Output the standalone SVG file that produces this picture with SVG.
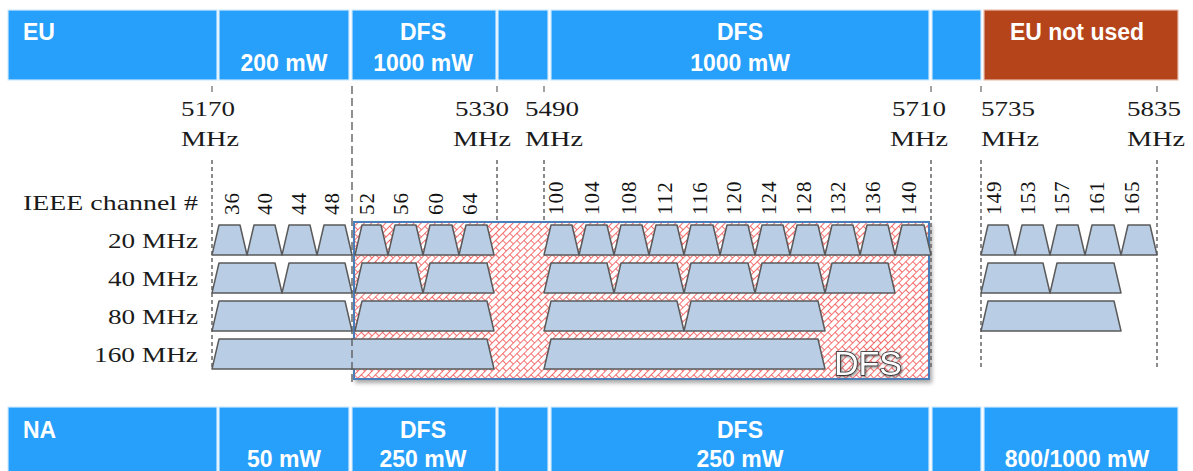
<svg xmlns="http://www.w3.org/2000/svg" width="1193" height="471" viewBox="0 0 1193 471">
<style>
.cell{fill:#27a0fc;stroke:#cfe9ff;stroke-width:1.2}
.brown{fill:#b5441a;stroke:#e8c0b0;stroke-width:1.2}
.bt{font-family:"Liberation Sans",Arial,sans-serif;font-weight:bold;font-size:23px;fill:#fff}
.mid{text-anchor:middle}
.ser{font-family:"Liberation Serif","Times New Roman",serif;font-size:22px;fill:#1a1a1a}
.num{font-family:"Liberation Serif","Times New Roman",serif;font-size:21px;fill:#111;letter-spacing:1px;dominant-baseline:central}
.tr{fill:#b9cde5;stroke:#5a5a5a;stroke-width:1.5;stroke-linejoin:round}
.dash{stroke:#666;stroke-width:1.5;stroke-dasharray:4 3;fill:none}
.ldash{stroke:#555;stroke-width:1.3;stroke-dasharray:8 4;fill:none}
.tick{stroke:#666;stroke-width:1.2}
</style>
<defs>
<pattern id="brick" width="10" height="10" patternUnits="userSpaceOnUse" patternTransform="rotate(-45)">
<rect width="10" height="10" fill="#fff"/>
<path d="M0 0.5H10M0 5.5H10M0.5 0.5V5.5M5.5 5.5V10.5" stroke="#f03030" stroke-width="0.7" fill="none"/>
</pattern>
<filter id="shadow" x="-5%" y="-5%" width="110%" height="115%">
<feDropShadow dx="2" dy="3" stdDeviation="2" flood-color="#000" flood-opacity="0.35"/>
</filter>
<filter id="glow" x="-20%" y="-20%" width="140%" height="140%">
<feDropShadow dx="1" dy="1" stdDeviation="1.5" flood-color="#444" flood-opacity="0.8"/>
</filter>
</defs>
<rect width="1193" height="471" fill="#fff"/>

<g id="eu-bar">
<rect class="cell" x="8" y="10" width="209" height="70"/>
<rect class="cell" x="219" y="10" width="130" height="70"/>
<rect class="cell" x="352" y="10" width="144" height="70"/>
<rect class="cell" x="498" y="10" width="50" height="70"/>
<rect class="cell" x="551" y="10" width="378" height="70"/>
<rect class="cell" x="932" y="10" width="49" height="70"/>
<rect class="brown" x="984" y="10" width="194" height="70"/>
<text class="bt" x="23" y="40">EU</text>
<text class="bt mid" x="284" y="71">200 mW</text>
<text class="bt mid" x="423" y="40">DFS</text>
<text class="bt mid" x="423" y="71">1000 mW</text>
<text class="bt mid" x="740" y="40">DFS</text>
<text class="bt mid" x="740" y="71">1000 mW</text>
<text class="bt mid" x="1077" y="40">EU not used</text>
</g>

<g id="na-bar">
<rect class="cell" x="8" y="407" width="209" height="70"/>
<rect class="cell" x="219" y="407" width="130" height="70"/>
<rect class="cell" x="352" y="407" width="144" height="70"/>
<rect class="cell" x="498" y="407" width="50" height="70"/>
<rect class="cell" x="551" y="407" width="378" height="70"/>
<rect class="cell" x="932" y="407" width="49" height="70"/>
<rect class="cell" x="984" y="407" width="194" height="70"/>
<text class="bt" x="23" y="438">NA</text>
<text class="bt mid" x="284" y="467">50 mW</text>
<text class="bt mid" x="423" y="438">DFS</text>
<text class="bt mid" x="423" y="467">250 mW</text>
<text class="bt mid" x="740" y="438">DFS</text>
<text class="bt mid" x="740" y="467">250 mW</text>
<text class="bt mid" x="1077" y="467">800/1000 mW</text>
</g>

<g id="freq-labels" class="ser">
<text x="181" y="116" textLength="54" lengthAdjust="spacingAndGlyphs">5170</text>
<text x="181" y="146" textLength="58" lengthAdjust="spacingAndGlyphs">MHz</text>
<text x="455" y="116" textLength="54" lengthAdjust="spacingAndGlyphs">5330</text>
<text x="453" y="146" textLength="58" lengthAdjust="spacingAndGlyphs">MHz</text>
<text x="525" y="116" textLength="54" lengthAdjust="spacingAndGlyphs">5490</text>
<text x="525" y="146" textLength="58" lengthAdjust="spacingAndGlyphs">MHz</text>
<text x="892" y="116" textLength="54" lengthAdjust="spacingAndGlyphs">5710</text>
<text x="890" y="146" textLength="58" lengthAdjust="spacingAndGlyphs">MHz</text>
<text x="981" y="116" textLength="54" lengthAdjust="spacingAndGlyphs">5735</text>
<text x="981" y="146" textLength="58" lengthAdjust="spacingAndGlyphs">MHz</text>
<text x="1127" y="116" textLength="54" lengthAdjust="spacingAndGlyphs">5835</text>
<text x="1127" y="146" textLength="58" lengthAdjust="spacingAndGlyphs">MHz</text>
</g>

<g id="row-labels" class="ser">
<text x="23" y="210" textLength="175" lengthAdjust="spacingAndGlyphs">IEEE channel #</text>
<text x="108" y="248" textLength="90" lengthAdjust="spacingAndGlyphs">20 MHz</text>
<text x="108" y="286" textLength="90" lengthAdjust="spacingAndGlyphs">40 MHz</text>
<text x="108" y="324" textLength="90" lengthAdjust="spacingAndGlyphs">80 MHz</text>
<text x="94" y="362" textLength="104" lengthAdjust="spacingAndGlyphs">160 MHz</text>
</g>

<g id="dfs-zone">
<rect x="354" y="222" width="575" height="157" fill="url(#brick)" stroke="#4a7ebb" stroke-width="2" filter="url(#shadow)"/>
</g>

<g id="guides">
<line class="tick" x1="212" y1="86" x2="212" y2="92"/>
<line class="tick" x1="497" y1="86" x2="497" y2="92"/>
<line class="tick" x1="544" y1="86" x2="544" y2="92"/>
<line class="tick" x1="931" y1="86" x2="931" y2="92"/>
<line class="tick" x1="981" y1="86" x2="981" y2="92"/>
<line class="tick" x1="1157" y1="86" x2="1157" y2="92"/>
<line class="dash" x1="212" y1="160" x2="212" y2="370"/>
<line class="dash" x1="497" y1="160" x2="497" y2="222"/>
<line class="dash" x1="544" y1="160" x2="544" y2="222"/>
<line class="dash" x1="931" y1="160" x2="931" y2="368"/>
<line class="dash" x1="981" y1="160" x2="981" y2="368"/>
<line class="dash" x1="1157" y1="160" x2="1157" y2="368"/>
</g>

<g id="channel-numbers" class="num">
<text transform="translate(232,215) rotate(-90)">36</text>
<text transform="translate(265,215) rotate(-90)">40</text>
<text transform="translate(299,215) rotate(-90)">44</text>
<text transform="translate(332,215) rotate(-90)">48</text>
<text transform="translate(367,215) rotate(-90)">52</text>
<text transform="translate(401,215) rotate(-90)">56</text>
<text transform="translate(436,215) rotate(-90)">60</text>
<text transform="translate(470,215) rotate(-90)">64</text>
<text transform="translate(556,215) rotate(-90)">100</text>
<text transform="translate(592,215) rotate(-90)">104</text>
<text transform="translate(629,215) rotate(-90)">108</text>
<text transform="translate(665,215) rotate(-90)">112</text>
<text transform="translate(700,215) rotate(-90)">116</text>
<text transform="translate(734,215) rotate(-90)">120</text>
<text transform="translate(769,215) rotate(-90)">124</text>
<text transform="translate(804,215) rotate(-90)">128</text>
<text transform="translate(838,215) rotate(-90)">132</text>
<text transform="translate(873,215) rotate(-90)">136</text>
<text transform="translate(909,215) rotate(-90)">140</text>
<text transform="translate(994,215) rotate(-90)">149</text>
<text transform="translate(1028,215) rotate(-90)">153</text>
<text transform="translate(1062,215) rotate(-90)">157</text>
<text transform="translate(1097,215) rotate(-90)">161</text>
<text transform="translate(1132,215) rotate(-90)">165</text>
</g>

<g id="channels-20">
<polygon class="tr" points="212,255 219,225 240,225 247,255"/>
<polygon class="tr" points="247,255 254,225 275,225 282,255"/>
<polygon class="tr" points="282,255 289,225 310,225 317,255"/>
<polygon class="tr" points="317,255 324,225 345,225 352,255"/>
<polygon class="tr" points="355,255 362,225 381,225 388,255"/>
<polygon class="tr" points="388,255 395,225 416,225 423,255"/>
<polygon class="tr" points="423,255 430,225 452,225 459,255"/>
<polygon class="tr" points="459,255 466,225 487,225 494,255"/>
<polygon class="tr" points="544,255 551,225 572,225 579,255"/>
<polygon class="tr" points="579,255 586,225 607,225 614,255"/>
<polygon class="tr" points="614,255 621,225 642,225 649,255"/>
<polygon class="tr" points="649,255 656,225 677,225 684,255"/>
<polygon class="tr" points="684,255 691,225 713,225 720,255"/>
<polygon class="tr" points="720,255 727,225 748,225 755,255"/>
<polygon class="tr" points="755,255 762,225 783,225 790,255"/>
<polygon class="tr" points="790,255 797,225 818,225 825,255"/>
<polygon class="tr" points="825,255 832,225 853,225 860,255"/>
<polygon class="tr" points="860,255 867,225 888,225 895,255"/>
<polygon class="tr" points="895,255 902,225 924,225 931,255"/>
<polygon class="tr" points="981,255 988,225 1008,225 1015,255"/>
<polygon class="tr" points="1015,255 1022,225 1043,225 1050,255"/>
<polygon class="tr" points="1050,255 1057,225 1078,225 1085,255"/>
<polygon class="tr" points="1085,255 1092,225 1114,225 1121,255"/>
<polygon class="tr" points="1121,255 1128,225 1150,225 1157,255"/>
</g>

<g id="channels-40">
<polygon class="tr" points="212,293 219,263 275,263 282,293"/>
<polygon class="tr" points="282,293 289,263 345,263 352,293"/>
<polygon class="tr" points="355,293 362,263 416,263 423,293"/>
<polygon class="tr" points="423,293 430,263 487,263 494,293"/>
<polygon class="tr" points="544,293 551,263 607,263 614,293"/>
<polygon class="tr" points="614,293 621,263 677,263 684,293"/>
<polygon class="tr" points="684,293 691,263 748,263 755,293"/>
<polygon class="tr" points="755,293 762,263 818,263 825,293"/>
<polygon class="tr" points="825,293 832,263 888,263 895,293"/>
<polygon class="tr" points="981,293 988,263 1043,263 1050,293"/>
<polygon class="tr" points="1050,293 1057,263 1114,263 1121,293"/>
</g>

<g id="channels-80">
<polygon class="tr" points="212,331 219,301 345,301 352,331"/>
<polygon class="tr" points="355,331 362,301 487,301 494,331"/>
<polygon class="tr" points="544,331 551,301 677,301 684,331"/>
<polygon class="tr" points="684,331 691,301 818,301 825,331"/>
<polygon class="tr" points="981,331 988,301 1114,301 1121,331"/>
</g>

<g id="channels-160">
<polygon class="tr" points="212,369 219,339 487,339 494,369"/>
<polygon class="tr" points="544,369 551,339 818,339 825,369"/>
</g>

<line id="dfs-edge" class="ldash" x1="352" y1="86" x2="352" y2="386"/>

<g id="dfs-label">
<text x="834" y="375" textLength="68" lengthAdjust="spacingAndGlyphs" font-family="Liberation Sans, Arial, sans-serif" font-size="34" fill="#fff" stroke="#222" stroke-width="1.4" paint-order="stroke" filter="url(#glow)">DFS</text>
</g>
</svg>
